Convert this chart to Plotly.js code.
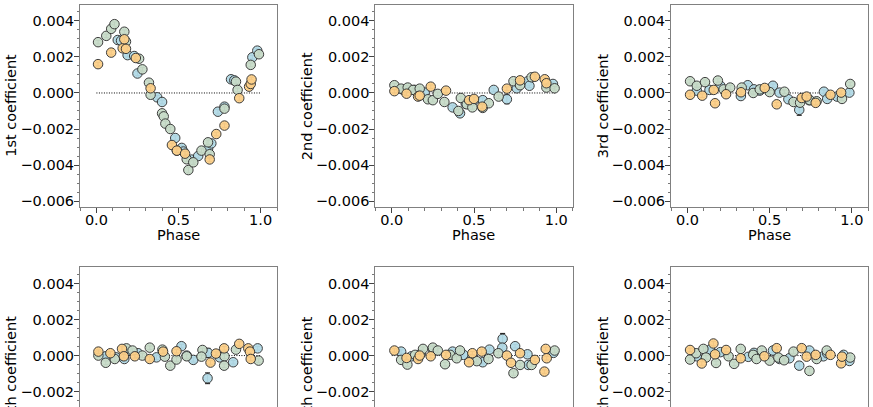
<!DOCTYPE html>
<html><head><meta charset="utf-8">
<script src="https://cdn.plot.ly/plotly-3.0.1.min.js"></script>
<style>html,body{margin:0;padding:0;overflow:hidden;width:873px;height:407px;background:#fff}#chart{width:873px;height:520px}</style>
</head><body><div id="chart"></div>
<script>
const yLabels = ["1st coefficient","2nd coefficient","3rd coefficient","4th coefficient","5th coefficient","6th coefficient"];
const xLabel = "Phase";
const yTicks = [-0.006,-0.004,-0.002,0.000,0.002,0.004];
const xTicks = [0.0,0.5,1.0];

// Panel 1
const p1_blue_x = [0.13,0.15,0.19,0.23,0.25,0.37,0.40,0.48,0.52,0.53,0.58,0.62,0.68,0.70,0.74,0.78,0.82,0.84,0.95,0.98];
const p1_blue_y = [0.00294,0.0029,0.0021,0.00205,0.00108,-0.00024,-0.0005,-0.0025,-0.00305,-0.00325,-0.0037,-0.0035,-0.0031,-0.0028,-0.00104,-0.00076,0.00076,0.0007,0.00198,0.00235];
const p1_blue_e = [0.00012,0.00012,0.0001,0.0001,0.00012,0.0001,0.0001,0.00012,0.00015,0.00012,0.00012,0.00012,0.00015,0.00012,0.00012,0.0001,0.0001,0.00012,0.0001,0.00012];
const p1_green_x = [0.01,0.06,0.09,0.11,0.17,0.18,0.26,0.28,0.32,0.33,0.40,0.41,0.42,0.45,0.49,0.55,0.56,0.59,0.64,0.68,0.69,0.78,0.85,0.86,0.94,0.99];
const p1_green_y = [0.00282,0.00317,0.00356,0.00382,0.0034,0.00285,0.0019,0.00131,0.00057,-0.0001,-0.00113,-0.0013,-0.0017,-0.002,-0.0032,-0.00368,-0.00428,-0.00385,-0.0032,-0.00274,-0.0034,-0.00087,0.00063,0.00017,0.00156,0.00215];
const p1_green_e = [0.0001,0.0001,0.00012,0.00012,0.0001,0.0001,0.00012,0.0001,0.0001,0.00012,0.0001,0.0001,0.00012,0.0001,0.00012,0.00012,0.00015,0.00012,0.0001,0.00012,0.0001,0.0001,0.00012,0.0001,0.0001,0.00012];
const p1_orange_x = [0.01,0.09,0.16,0.17,0.18,0.24,0.33,0.46,0.49,0.54,0.69,0.73,0.78,0.87,0.93,0.94,0.945];
const p1_orange_y = [0.0016,0.00224,0.00248,0.00298,0.00245,0.00194,0.00026,-0.00289,-0.0032,-0.00337,-0.00369,-0.00228,-0.00181,-0.00029,0.00035,0.0005,0.00075];
const p1_orange_e = [0.0001,0.00012,0.0001,0.00012,0.0001,0.0001,0.00012,0.0001,0.0001,0.00012,0.00012,0.0001,0.0001,0.00012,0.0001,0.0001,0.00012];

// Panel 2
const p2_blue_x = [0.07,0.14,0.2,0.37,0.415,0.45,0.5,0.553,0.62,0.7,0.76,0.827,0.837,0.98];
const p2_blue_y = [0.00017,0.00017,0.00002,-0.0008,-0.00113,-0.0006,-0.0004,-0.0004,0.00017,-0.00035,0.00026,0.00065,0.0004,0.0005];
const p2_blue_e = [0.0001,0.0001,0.00012,0.0001,0.00012,0.0001,0.0001,0.00012,0.0001,0.00025,0.0001,0.00012,0.0001,0.0001];
const p2_green_x = [0.016,0.057,0.097,0.13,0.17,0.22,0.25,0.28,0.32,0.405,0.42,0.456,0.49,0.553,0.59,0.65,0.74,0.78,0.85,0.94,0.99];
const p2_green_y = [0.00043,0.00024,0.0003,0.00017,0.00024,-0.00035,-0.0004,-0.00005,-0.0005,-0.001,-0.00028,-0.00063,-0.0008,-0.00083,-0.00057,-0.0002,0.00065,0.00043,0.00087,0.0003,0.00026];
const p2_green_e = [0.0001,0.0001,0.00012,0.0001,0.0001,0.00012,0.0001,0.0001,0.00012,0.0001,0.0001,0.00012,0.0001,0.0001,0.00012,0.0001,0.0001,0.00012,0.0001,0.0001,0.0001];
const p2_orange_x = [0.016,0.09,0.16,0.17,0.237,0.33,0.47,0.5,0.55,0.7,0.78,0.87,0.93,0.94];
const p2_orange_y = [0.0001,-0.00004,-0.0002,-0.00015,0.00035,0.00013,-0.0004,-0.00033,-0.00076,0.00024,0.0007,0.0009,0.00076,0.00054];
const p2_orange_e = [0.0001,0.0001,0.00012,0.0001,0.0001,0.00012,0.0001,0.0001,0.00012,0.0001,0.0001,0.00012,0.0001,0.0001];

// Panel 3
const p3_blue_x = [0.057,0.134,0.2,0.325,0.367,0.405,0.44,0.52,0.56,0.614,0.68,0.74,0.83,0.85,0.91,0.985];
const p3_blue_y = [0.00013,0.00017,0.0004,-0.00017,0.00043,0.0002,0.00013,0.0004,0.00002,-0.00035,-0.00094,-0.0004,0.00007,-0.00033,-0.0002,0.00002];
const p3_blue_e = [0.0001,0.0001,0.00012,0.0001,0.0001,0.00012,0.0001,0.0001,0.00012,0.0001,0.0003,0.00012,0.0001,0.0001,0.00012,0.0001];
const p3_green_x = [0.016,0.057,0.107,0.185,0.22,0.26,0.33,0.4,0.44,0.5,0.59,0.645,0.685,0.745,0.786,0.94,0.99];
const p3_green_y = [0.00065,0.0004,0.0006,0.00069,0.0002,0.0003,0.0003,0,0.0002,0.00005,0.00007,-0.0005,-0.00054,-0.0004,-0.00046,-0.00033,0.0005];
const p3_green_e = [0.0001,0.0001,0.00012,0.0001,0.0001,0.00012,0.0001,0.0001,0.00012,0.0001,0.0001,0.00012,0.0001,0.0001,0.00012,0.0001,0.0001];
const p3_orange_x = [0.016,0.09,0.16,0.168,0.235,0.326,0.47,0.543,0.695,0.725,0.78,0.87,0.935];
const p3_orange_y = [-0.0001,-0.00015,0.00017,-0.00057,-0.00007,0.00004,0.00028,-0.00063,-0.00028,-0.0002,-0.00055,-0.0001,0.00002];
const p3_orange_e = [0.0001,0.0001,0.00012,0.0001,0.0001,0.00012,0.0001,0.0001,0.00012,0.0001,0.0001,0.00012,0.0001];

// Panel 4
const p4_blue_x = [0.057,0.12,0.17,0.19,0.254,0.366,0.518,0.55,0.59,0.677,0.68,0.752,0.833,0.982];
const p4_blue_y = [-0.00004,-0.0001,-0.00019,0.00026,0.00013,-0.0001,0.00052,0,-0.00024,-0.00126,0.00015,-0.0001,-0.00037,0.0004];
const p4_blue_e = [0.0001,0.0001,0.00012,0.0001,0.0001,0.00012,0.0001,0.0001,0.00012,0.0003,0.00025,0.0001,0.0001,0.0001];
const p4_green_x = [0.012,0.057,0.112,0.183,0.22,0.28,0.325,0.402,0.417,0.45,0.488,0.55,0.646,0.64,0.78,0.778,0.85,0.988];
const p4_green_y = [0,-0.0004,-0.00019,0.0004,0.00028,0,0.00044,0.00033,-0.00006,-0.00056,-0.00022,-0.00004,0.00031,-0.00006,-0.00004,-0.00056,0.00033,-0.00028];
const p4_green_e = [0.0001,0.0001,0.00012,0.0001,0.0001,0.00012,0.0001,0.0001,0.00012,0.0001,0.0001,0.00012,0.0001,0.0001,0.00012,0.0001,0.0001,0.0001];
const p4_orange_x = [0.012,0.085,0.156,0.167,0.234,0.325,0.406,0.488,0.695,0.728,0.778,0.87,0.925,0.935,0.94];
const p4_orange_y = [0.00022,0.00013,0.00037,-0.00004,-0.00004,-0.00019,0.00022,0.00024,-0.00039,0.00011,0.0004,0.00065,0.0004,0.00022,-0.00019];
const p4_orange_e = [0.0001,0.0001,0.00012,0.0001,0.0001,0.00012,0.0001,0.0001,0.00012,0.0001,0.0001,0.00012,0.0001,0.0001,0.0001];

// Panel 5
const p5_blue_x = [0.057,0.12,0.176,0.253,0.37,0.436,0.553,0.594,0.674,0.672,0.75,0.825,0.83,0.983];
const p5_blue_y = [0.00022,-0.00004,0.00009,0.00028,0.00022,0.00004,-0.00037,0.00033,0.00093,0.00044,0.00052,0.00007,-0.00052,0.00015];
const p5_blue_e = [0.0001,0.0001,0.00012,0.0001,0.0001,0.00012,0.0001,0.0001,0.0003,0.0001,0.0001,0.00012,0.0001,0.0001];
const p5_green_x = [0.057,0.095,0.142,0.19,0.25,0.28,0.324,0.355,0.395,0.415,0.486,0.517,0.588,0.648,0.74,0.78,0.85,0.99];
const p5_green_y = [-0.00024,-0.0005,0.00004,0.00037,0.00044,0.00028,-0.00048,0.00004,-0.00015,0.00028,-0.00019,-0.00031,-0.00019,0.00013,-0.00098,-0.00052,-0.00052,0.00028];
const p5_green_e = [0.0001,0.0001,0.00012,0.0001,0.0001,0.00012,0.0001,0.0001,0.00012,0.0001,0.0001,0.00012,0.0001,0.0001,0.00012,0.0001,0.0001,0.0001];
const p5_orange_x = [0.016,0.09,0.16,0.17,0.237,0.33,0.47,0.49,0.547,0.7,0.725,0.78,0.87,0.928,0.936,0.942];
const p5_orange_y = [0.00028,-0.00013,-0.00019,0,-0.00004,0.00004,-0.00037,0.00013,0.00022,0,-0.0004,0.00013,-0.00024,-0.00089,0.00037,-0.00015];
const p5_orange_e = [0.0001,0.0001,0.00012,0.0001,0.0001,0.00012,0.0001,0.0001,0.00012,0.0001,0.0001,0.00012,0.0001,0.0001,0.0001,0.0001];

// Panel 6
const p6_blue_x = [0.057,0.138,0.2,0.37,0.405,0.52,0.56,0.62,0.68,0.742,0.827,0.85,0.95,0.985];
const p6_blue_y = [-0.00004,0.00033,0.00019,-0.00007,0.00015,0.00028,-0.00019,-0.00015,-0.00056,0.00028,-0.00004,0.00013,0.00004,-0.0003];
const p6_blue_e = [0.0001,0.0001,0.00012,0.0001,0.0001,0.00012,0.0001,0.0001,0.0002,0.0001,0.0001,0.00012,0.0001,0.0001];
const p6_green_x = [0.016,0.053,0.097,0.113,0.174,0.25,0.284,0.324,0.4,0.42,0.452,0.5,0.553,0.588,0.645,0.742,0.786,0.847,0.99];
const p6_green_y = [-0.00022,0.00013,0.00037,-0.00011,-0.00041,-0.00004,-0.00046,0.00037,0.00004,-0.00019,0.00028,-0.00028,-0.00011,-0.00026,0.00022,-0.00085,-0.00019,0.00028,-0.00011];
const p6_green_e = [0.0001,0.0001,0.00012,0.0001,0.0001,0.00012,0.0001,0.0001,0.00012,0.0001,0.0001,0.00012,0.0001,0.0001,0.00012,0.00012,0.0001,0.0001,0.0001];
const p6_orange_x = [0.016,0.087,0.158,0.168,0.235,0.324,0.468,0.543,0.695,0.725,0.78,0.87,0.935,0.94];
const p6_orange_y = [0.00031,-0.00044,0.00067,0.00007,0.00031,-0.00015,-0.00004,0.00041,0.00041,-0.00006,0.00004,0.00004,-0.00043,-0.00006];
const p6_orange_e = [0.0001,0.0001,0.00012,0.0001,0.0001,0.00012,0.0001,0.0001,0.00012,0.0001,0.0001,0.00012,0.0001,0.0001];

const panels = [
  [[p1_blue_x,p1_blue_y,p1_blue_e],[p1_green_x,p1_green_y,p1_green_e],[p1_orange_x,p1_orange_y,p1_orange_e]],
  [[p2_blue_x,p2_blue_y,p2_blue_e],[p2_green_x,p2_green_y,p2_green_e],[p2_orange_x,p2_orange_y,p2_orange_e]],
  [[p3_blue_x,p3_blue_y,p3_blue_e],[p3_green_x,p3_green_y,p3_green_e],[p3_orange_x,p3_orange_y,p3_orange_e]],
  [[p4_blue_x,p4_blue_y,p4_blue_e],[p4_green_x,p4_green_y,p4_green_e],[p4_orange_x,p4_orange_y,p4_orange_e]],
  [[p5_blue_x,p5_blue_y,p5_blue_e],[p5_green_x,p5_green_y,p5_green_e],[p5_orange_x,p5_orange_y,p5_orange_e]],
  [[p6_blue_x,p6_blue_y,p6_blue_e],[p6_green_x,p6_green_y,p6_green_e],[p6_orange_x,p6_orange_y,p6_orange_e]]
];
const seriesColors = ["#b3dbe7","#c9ddca","#fdd089"];

const W = 873, H = 520;
const colPx = [[80,277],[375.3,572.7],[671,868.3]];
const rowPx = [[4.7,207],[267.3,469.6]];
const yTitleX = [11,307.3,603.3];
const FONT = {family:"DejaVu Sans", size:14.5, color:"#000"};

const traces = [];
const layout = {width:W, height:H, margin:{l:0,r:0,t:0,b:0}, showlegend:false,
  paper_bgcolor:"#fff", plot_bgcolor:"#fff", font:FONT, annotations:[]};

panels.forEach((series, i) => {
  const r = Math.floor(i/3), c = i%3;
  const xa = "x"+(i===0?"":i+1), ya = "y"+(i===0?"":i+1);
  traces.push({type:"scatter", mode:"lines", x:[0,1], y:[0,0], xaxis:xa, yaxis:ya,
    line:{color:"#000", width:1, dash:"1px,1.5px"}, hoverinfo:"skip"});
  series.forEach((s, k) => {
    traces.push({type:"scatter", mode:"markers", x:s[0], y:s[1], xaxis:xa, yaxis:ya,
      error_y:{type:"data", array:s[2], visible:true, color:"#111", thickness:1, width:2.5},
      marker:{size:9.5, color:seriesColors[k], opacity:0.95, line:{color:"#333", width:1}},
      hoverinfo:"skip"});
  });
  const axBase = {showline:true, mirror:true, linecolor:"#808080", linewidth:1, showgrid:false,
    zeroline:false, ticks:"outside", ticklen:5, tickwidth:1, tickcolor:"#444", tickfont:FONT};
  layout["xaxis"+(i===0?"":i+1)] = Object.assign({}, axBase, {
    domain:[colPx[c][0]/W, colPx[c][1]/W], anchor:ya, range:[-0.1,1.1], ticklabelstandoff:-5,
    tickmode:"array", tickvals:xTicks, ticktext:xTicks.map(v=>v.toFixed(1)),
    minor:{ticks:"outside", ticklen:2.5, dtick:0.1, tick0:0, tickcolor:"#777", showgrid:false}});
  layout["yaxis"+(i===0?"":i+1)] = Object.assign({}, axBase, {
    domain:[1-rowPx[r][1]/H, 1-rowPx[r][0]/H], anchor:xa, range:[-0.00633,0.0049], ticklabelstandoff:-3,
    tickmode:"array", tickvals:yTicks, ticktext:yTicks.map(v=>(v<0?"\u2212":"")+Math.abs(v).toFixed(3)),
    minor:{ticks:"outside", ticklen:2.5, dtick:0.0005, tick0:0, tickcolor:"#777", showgrid:false}});
  layout.annotations.push({text:yLabels[i], xref:"paper", yref:"paper", showarrow:false,
    x:yTitleX[c]/W, y:1-((rowPx[r][0]+rowPx[r][1])/2)/H, xanchor:"center", yanchor:"middle",
    textangle:-90, font:FONT});
  layout.annotations.push({text:xLabel, xref:"paper", yref:"paper", showarrow:false,
    x:((colPx[c][0]+colPx[c][1])/2)/W, y:1-(rowPx[r][1]+28)/H, xanchor:"center", yanchor:"middle",
    font:FONT});
});

Plotly.newPlot("chart", traces, layout, {staticPlot:true, displayModeBar:false});
</script>
</body></html>
